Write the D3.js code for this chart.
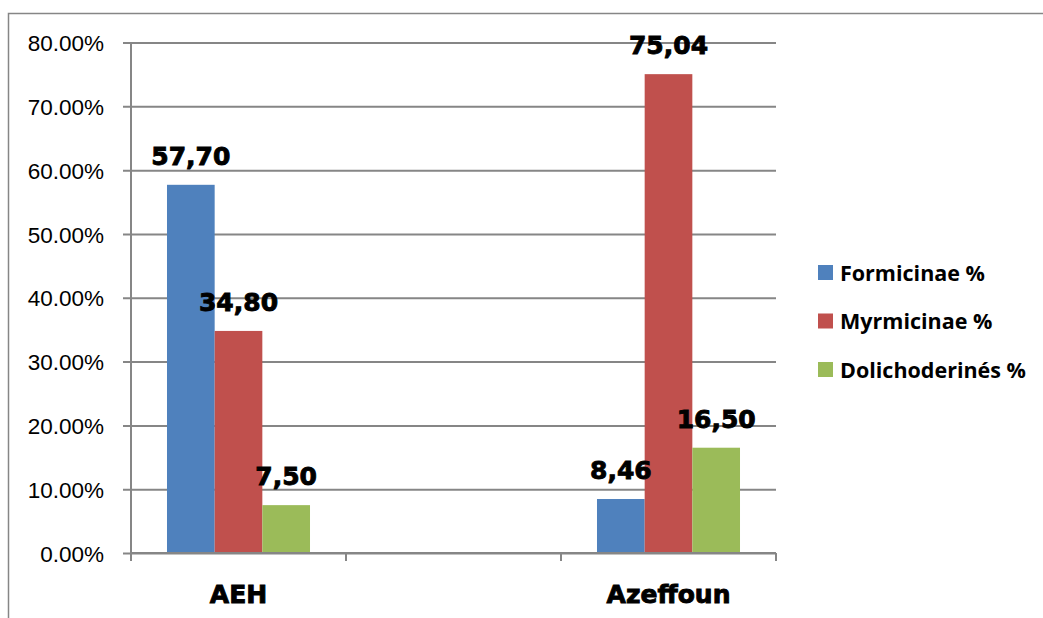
<!DOCTYPE html>
<html>
<head>
<meta charset="utf-8">
<script src="https://cdn.jsdelivr.net/npm/d3@7"></script>
<style>
  html, body { margin: 0; padding: 0; background: #fff; }
  svg { display: block; }
</style>
</head>
<body>
<svg id="chart" width="1043" height="618"></svg>
<script>
// Ant subfamily shares per site
const sites = ["AEH", "", "Azeffoun"];
const seriesNames = ["Formicinae %", "Myrmicinae %", "Dolichoderinés %"];
const formicinae = [57.70, null, 8.46];
const myrmicinae = [34.80, null, 75.04];
const dolichoderines = [7.50, null, 16.50];
const valueLabels = [["57,70", "34,80", "7,50"], [null, null, null], ["8,46", "75,04", "16,50"]];
const yTicks = [0, 10, 20, 30, 40, 50, 60, 70, 80];
const colors = ["#4F81BD", "#C0504D", "#9BBB59"];

const seriesValues = [formicinae, myrmicinae, dolichoderines];

const svg = d3.select("#chart");
const gridColor = "#868686";

// outer chart frame (left and top edges)
svg.append("path")
  .attr("d", "M8.5,618 L8.5,13.5 L1043,13.5")
  .attr("fill", "none")
  .attr("stroke", gridColor)
  .attr("stroke-width", 1.5);

const plot = { left: 131, right: 776, top: 42.5, bottom: 553 };

const y = d3.scaleLinear().domain([0, 80]).range([plot.bottom, plot.top]);
const x0 = d3.scaleBand().domain(sites).range([plot.left, plot.right]).paddingInner(0).paddingOuter(0);
const x1 = d3.scaleBand().domain(seriesNames).range([0, x0.bandwidth()]).paddingInner(0).paddingOuter(0.755);

// horizontal gridlines with tick marks
const yAxis = d3.axisLeft(y)
  .tickValues(yTicks)
  .tickSize(-(plot.right - plot.left))
  .tickFormat(d => d.toFixed(2) + "%");

const gy = svg.append("g")
  .attr("transform", `translate(${plot.left},0)`)
  .call(yAxis);
gy.select(".domain").remove();
gy.selectAll(".tick line")
  .attr("x1", -8)
  .attr("stroke", gridColor)
  .attr("stroke-width", 2);
gy.selectAll(".tick text")
  .attr("x", -27)
  .attr("dy", "0.36em")
  .attr("fill", "#000")
  .style("font-family", "'Liberation Sans', Arial, sans-serif")
  .style("font-size", "22.5px");

// vertical axis line
svg.append("line")
  .attr("x1", plot.left).attr("x2", plot.left)
  .attr("y1", plot.top).attr("y2", plot.bottom + 8)
  .attr("stroke", gridColor).attr("stroke-width", 2);

// bars
const rows = sites.map((s, i) => ({ site: s, i }));
const groups = svg.append("g").selectAll("g")
  .data(rows)
  .join("g")
  .attr("transform", d => `translate(${x0(d.site)},0)`);

const cells = d => seriesNames
  .map((n, k) => ({ name: n, k, v: seriesValues[k][d.i], label: valueLabels[d.i][k] }))
  .filter(e => e.v != null);

groups.selectAll("rect")
  .data(cells)
  .join("rect")
  .attr("x", e => x1(e.name))
  .attr("y", e => y(e.v))
  .attr("width", x1.bandwidth())
  .attr("height", e => y(0) - y(e.v))
  .attr("fill", e => colors[e.k]);

// x axis with category separators
const xAxis = d3.axisBottom(x0).tickSize(0).tickFormat("");
const gx = svg.append("g")
  .attr("transform", `translate(0,${plot.bottom})`)
  .call(xAxis);
gx.select(".domain").attr("stroke", gridColor).attr("stroke-width", 2).attr("d", `M${plot.left},0H${plot.right}`);
gx.selectAll(".tick").remove();
const boundaries = sites.map(s => x0(s)).concat([plot.right]);
gx.selectAll("line.sep")
  .data(boundaries)
  .join("line")
  .attr("class", "sep")
  .attr("x1", d => d).attr("x2", d => d)
  .attr("y1", 0).attr("y2", 8)
  .attr("stroke", gridColor).attr("stroke-width", 2);

const heavy = sel => sel
  .style("font-family", "'DejaVu Sans', Verdana, sans-serif")
  .style("font-weight", "bold")
  .style("font-size", "25px")
  .attr("fill", "#000")
  .attr("stroke", "#000")
  .attr("stroke-width", 0.9)
  .attr("paint-order", "stroke");

// category labels
svg.append("g").selectAll("text")
  .data(sites.filter(s => s !== ""))
  .join("text")
  .attr("x", d => x0(d) + x0.bandwidth() / 2)
  .attr("y", 603)
  .attr("text-anchor", "middle")
  .call(heavy)
  .text(d => d);

// value labels above bars
groups.selectAll("text.val")
  .data(cells)
  .join("text")
  .attr("class", "val")
  .attr("x", e => x1(e.name) + x1.bandwidth() / 2)
  .attr("y", e => y(e.v) - 20)
  .attr("text-anchor", "middle")
  .call(heavy)
  .text(e => e.label);

// legend
const legend = svg.append("g").attr("transform", "translate(818,265)");
const items = legend.selectAll("g")
  .data(seriesNames)
  .join("g")
  .attr("transform", (d, i) => `translate(0,${i * 48.5})`);
items.append("rect")
  .attr("width", 15).attr("height", 15)
  .attr("fill", (d, i) => colors[i]);
items.append("text")
  .attr("x", 22)
  .attr("y", 15.5)
  .style("font-family", "'Open Sans', Lato, sans-serif")
  .style("font-weight", "bold")
  .style("font-size", "21.5px")
  .text(d => d);
</script>
</body>
</html>
